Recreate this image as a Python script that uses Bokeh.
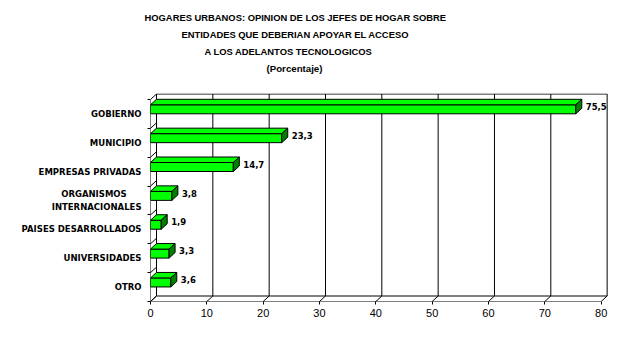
from bokeh.plotting import figure
from bokeh.models import FixedTicker, Range1d, ColumnDataSource, Title
from bokeh.core.properties import value
from bokeh.embed import file_html
from bokeh.resources import INLINE

# ---------------- data ----------------
title_lines = [
    "HOGARES URBANOS: OPINION DE LOS JEFES DE HOGAR SOBRE",
    "ENTIDADES QUE DEBERIAN APOYAR EL ACCESO",
    "A LOS ADELANTOS TECNOLOGICOS",
]
subtitle = "(Porcentaje)"
categories = [
    "GOBIERNO",
    "MUNICIPIO",
    "EMPRESAS PRIVADAS",
    "ORGANISMOS" + "\u00a0" * 5 + "\nINTERNACIONALES",
    "PAISES DESARROLLADOS",
    "UNIVERSIDADES",
    "OTRO",
]
values = [75.5, 23.3, 14.7, 3.8, 1.9, 3.3, 3.6]
x_ticks = [0, 10, 20, 30, 40, 50, 60, 70, 80]

# ---------------- geometry (pixels) ----------------
W, H = 639, 352
FL, FR, FT, FB = 150, 609, 93, 301
PX_PER_UNIT = 5.633
N = len(categories)
BAND_PX = (FB - 99) / N
X_MAX = x_ticks[-1]
DX = 6.0 / PX_PER_UNIT
DY = 5.5 / BAND_PX

LABEL_FONT = "DejaVu Sans"
TITLE_FONT = "Liberation Sans"

p = figure(width=W, height=H, output_backend="svg", toolbar_location=None,
           x_range=Range1d(0, (FR - FL) / PX_PER_UNIT),
           y_range=Range1d(0, (FB - FT) / BAND_PX),
           min_border_left=FL, min_border_right=W - FR,
           min_border_top=FT, min_border_bottom=H - FB,
           background_fill_color="white", border_fill_color="white")
p.outline_line_color = None
p.xgrid.visible = False
p.ygrid.visible = False

# ---------------- walls ----------------
p.quad(left=DX, right=X_MAX + DX, bottom=DY, top=N + DY,
       fill_color="white", line_color="black", line_width=1)
grid_x = [t + DX for t in x_ticks[1:-1]]
p.segment(x0=grid_x, y0=[DY] * len(grid_x), x1=grid_x, y1=[N + DY] * len(grid_x),
          line_color="black", line_width=1)
p.segment(x0=x_ticks, y0=[0] * len(x_ticks), x1=[t + DX for t in x_ticks],
          y1=[DY] * len(x_ticks), line_color="black", line_width=1)
bounds = list(range(N + 1))
p.segment(x0=[0] * len(bounds), y0=bounds, x1=[DX] * len(bounds),
          y1=[b + DY for b in bounds], line_color="black", line_width=1)
p.segment(x0=[0, 0], y0=[0, 0], x1=[0, X_MAX], y1=[N, 0],
          line_color="black", line_width=1)

# ---------------- bars ----------------
tops, bottoms = [], []
top_xs, top_ys, side_xs, side_ys = [], [], [], []
lab_x, lab_y, lab_t = [], [], []
for i, v in enumerate(values):
    k = N - 1 - i
    band_top = k + 1
    t = band_top - 5.3 / BAND_PX
    b = band_top - 14.3 / BAND_PX
    tops.append(t)
    bottoms.append(b)
    top_xs.append([0, v, v + DX, DX])
    top_ys.append([t, t, t + DY, t + DY])
    side_xs.append([v, v, v + DX, v + DX])
    side_ys.append([b, t, t + DY, b + DY])
    lab_x.append(v + DX)
    lab_y.append(band_top - 7.0 / BAND_PX)
    lab_t.append(f"{v:.1f}".replace(".", ","))

p.quad(left=[0] * N, right=values, bottom=bottoms, top=tops,
       fill_color="#00FF00", line_color="black", line_width=1)
p.patches(xs=top_xs, ys=top_ys, fill_color="#00FF00", line_color="black", line_width=1)
p.patches(xs=side_xs, ys=side_ys, fill_color="#008000", line_color="black", line_width=1)

src = ColumnDataSource(dict(x=lab_x, y=lab_y, t=lab_t))
p.text(x="x", y="y", text="t", source=src, x_offset=4,
       text_font=value(LABEL_FONT), text_font_style="bold",
       text_font_size="8.5px", text_baseline="middle", text_align="left",
       text_color="black")

# ---------------- axes ----------------
p.xaxis.ticker = FixedTicker(ticks=x_ticks)
p.xaxis.axis_line_color = None
p.xaxis.major_tick_in = 0
p.xaxis.major_tick_out = 3
p.xaxis.minor_tick_out = 0
p.xaxis.minor_tick_in = 0
p.xaxis.major_label_standoff = 4
p.xaxis.major_label_text_font = "Liberation Sans"
p.xaxis.major_label_text_font_size = "11px"
p.xaxis.major_label_text_color = "black"

centers = [N - 1 - i + 0.5 for i in range(N)]
p.yaxis.ticker = FixedTicker(ticks=centers, minor_ticks=bounds)
p.yaxis.major_label_overrides = {c: lab for c, lab in zip(centers, categories)}
p.yaxis.axis_line_color = None
p.yaxis.major_tick_in = 0
p.yaxis.major_tick_out = 0
p.yaxis.minor_tick_in = 0
p.yaxis.minor_tick_out = 3
p.yaxis.major_label_standoff = 6
p.yaxis.major_label_text_font = LABEL_FONT
p.yaxis.major_label_text_font_style = "bold"
p.yaxis.major_label_text_font_size = "8.5px"
p.yaxis.major_label_text_line_height = 1.35
p.yaxis.major_label_text_color = "black"

# ---------------- title (stacked from the frame outward) ----------------
p.add_layout(Title(text="\u00a0", standoff=15, text_font_size="1px"), "above")
p.add_layout(Title(text=subtitle, align="left", offset=116, standoff=4,
                   text_font=TITLE_FONT, text_font_style="bold",
                   text_font_size="9.7px", text_color="black"), "above")
offsets = [-6, 31, 54]
for line, off in reversed(list(zip(title_lines, offsets))):
    p.add_layout(Title(text=line, align="left", offset=off, standoff=4,
                       text_font=TITLE_FONT, text_font_style="bold",
                       text_font_size="9.4px", text_color="black"), "above")

open("out.html", "w").write(file_html(p, INLINE))
